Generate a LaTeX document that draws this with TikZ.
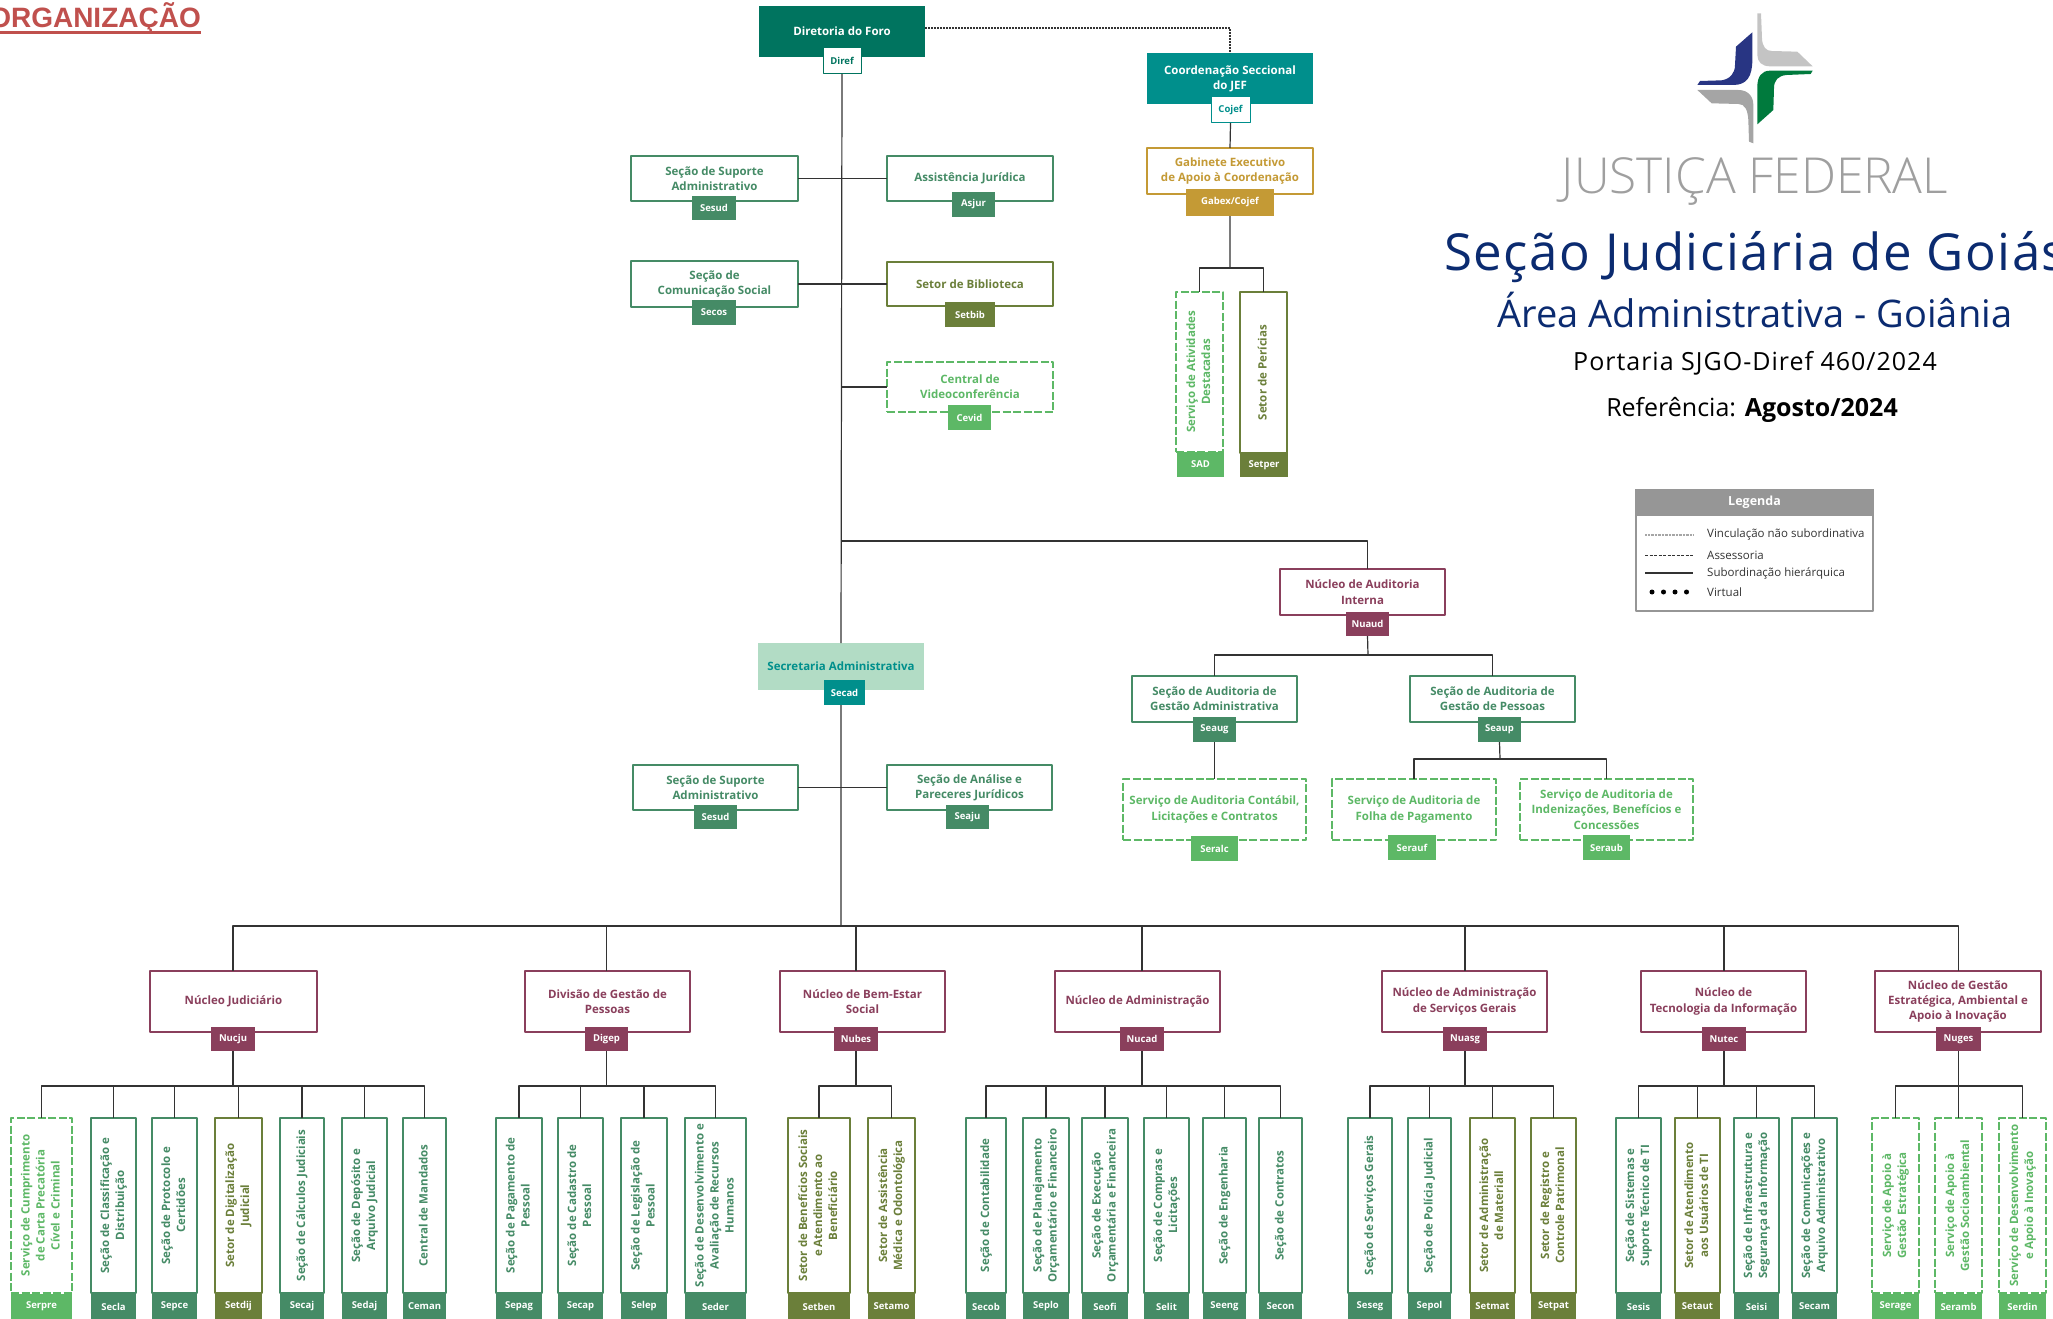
\documentclass[tikz,border=0pt]{standalone}
\usepackage{fontspec}
\usepackage{graphicx}
\setmainfont{Open Sans}
\newfontfamily\titlefont{Liberation Sans}
\newfontfamily\logofont{Open Sans Light}
\newfontfamily\wideface[LetterSpace=3]{Open Sans}
\newfontfamily\midface[LetterSpace=4]{Open Sans}
\definecolor{cdiref}{HTML}{00745F}
\definecolor{cteal}{HTML}{008F8C}
\definecolor{csoft}{HTML}{B2DCC5}
\definecolor{cgold}{HTML}{C49A35}
\definecolor{cgreen}{HTML}{458B66}
\definecolor{colive}{HTML}{6B7F3A}
\definecolor{cserv}{HTML}{5DB866}
\definecolor{cwine}{HTML}{8A3F5C}
\definecolor{ctitle}{HTML}{C0504D}
\definecolor{cnavy}{HTML}{0B2B70}
\definecolor{cline}{HTML}{333333}
\definecolor{clegend}{HTML}{969696}
\definecolor{clogoblue}{HTML}{283583}
\definecolor{clogogreen}{HTML}{007A3D}
\definecolor{clogolight}{HTML}{C4C4C4}
\definecolor{clogodark}{HTML}{A5A5A5}
\tikzset{
	orgnode/.style={inner sep=0pt, outer sep=0pt, align=center, font=\fontsize{11.5}{15.3}\selectfont\bfseries},
	unitbox/.style={orgnode, draw=#1, text=#1, fill=white, line width=2.2pt},
	dashbox/.style={unitbox=#1, dash pattern=on 8pt off 2.5pt},
	fullbox/.style={orgnode, fill=#1, text=white},
	unittag/.style={orgnode, fill=#1, text=white, font=\fontsize{9.5}{12}\selectfont\bfseries},
	whitetag/.style={orgnode, draw=#1, text=#1, fill=white, line width=1pt, font=\fontsize{9.5}{12}\selectfont\bfseries},
	conn/.style={draw=cline, line width=1.2pt},
	legtext/.style={inner sep=0pt, anchor=west, text=cline, font=\fontsize{11.5}{12}\selectfont},
	headline/.style={inner sep=0pt, anchor=base, text=black}
}
\newcommand{\orgbox}[7]{\node[#2, minimum width={(#5-#3)*1pt}, minimum height={(#6-#4)*1pt}] (#1) at ({(#3+#5)/2},{(#4+#6)/2}) {#7};}
\newcommand{\vtext}[1]{\rotatebox{90}{\fontsize{11.5}{15}\selectfont\begin{tabular}{@{}c@{}}#1\end{tabular}}}
\begin{document}
\begin{tikzpicture}[x=1pt, y=-1pt, line join=round]
	\useasboundingbox (0,0) rectangle (2053,1319);
	\node[inner sep=0pt, anchor=base east, text=ctitle, font=\titlefont\fontsize{28}{30}\selectfont\bfseries] (title) at (201,28) {ORGANIZAÇÃO};
	\coordinate (titleleft) at (0,32.5);
	\draw[ctitle, line width=3pt] (titleleft) -- (titleleft -| title.east);

	\orgbox{diref}{fullbox=cdiref}{759}{6}{925}{57}{Diretoria do Foro}
	\orgbox{direftag}{whitetag=cdiref}{823}{48}{861}{74}{Diref}
	\orgbox{sesudA}{unitbox=cgreen}{631}{156}{798}{201}{Seção de Suporte\\Administrativo}
	\orgbox{sesudAtag}{unittag=cgreen}{692}{196}{736}{220}{Sesud}
	\orgbox{asjur}{unitbox=cgreen}{887}{156}{1053}{201}{Assistência Jurídica}
	\orgbox{asjurtag}{unittag=cgreen}{952}{192}{995}{217}{Asjur}
	\orgbox{secos}{unitbox=cgreen}{631}{261}{798}{307}{Seção de\\Comunicação Social}
	\orgbox{secostag}{unittag=cgreen}{692}{300}{736}{325}{Secos}
	\orgbox{setbib}{unitbox=colive}{887}{262}{1053}{306}{Setor de Biblioteca}
	\orgbox{setbibtag}{unittag=colive}{945}{302}{995}{327}{Setbib}
	\orgbox{cevid}{dashbox=cserv}{887}{362}{1053}{412}{Central de\\Videoconferência}
	\orgbox{cevidtag}{unittag=cserv}{948}{405}{991}{430}{Cevid}

	\orgbox{cojef}{fullbox=cteal}{1147}{53}{1313}{104}{Coordenação Seccional\\do JEF}
	\orgbox{cojeftag}{whitetag=cteal}{1211}{97}{1250}{123}{Cojef}
	\orgbox{gabex}{unitbox=cgold}{1147}{148}{1313}{194}{Gabinete Executivo\\de Apoio à Coordenação}
	\orgbox{gabextag}{unittag=cgold}{1186}{189}{1274}{216}{Gabex/Cojef}
	\orgbox{sad}{dashbox=cserv}{1176}{292}{1223}{452}{\vtext{Serviço de Atividades\\Destacadas}}
	\orgbox{sadtag}{unittag=cserv}{1177}{452}{1224}{477}{SAD}
	\orgbox{setper}{unitbox=colive}{1240}{292}{1287}{453}{\vtext{Setor de Perícias}}
	\orgbox{setpertag}{unittag=colive}{1240}{453}{1288}{477}{Setper}

	\orgbox{nuaud}{unitbox=cwine}{1280}{569}{1445}{615}{Núcleo de Auditoria\\Interna}
	\orgbox{nuaudtag}{unittag=cwine}{1346}{612}{1389}{636}{Nuaud}
	\orgbox{seaug}{unitbox=cgreen}{1132}{676}{1297}{722}{Seção de Auditoria de\\Gestão Administrativa}
	\orgbox{seaugtag}{unittag=cgreen}{1193}{717}{1236}{742}{Seaug}
	\orgbox{seaup}{unitbox=cgreen}{1410}{676}{1575}{722}{Seção de Auditoria de\\Gestão de Pessoas}
	\orgbox{seauptag}{unittag=cgreen}{1478}{717}{1521}{742}{Seaup}
	\orgbox{seralc}{dashbox=cserv}{1123}{779}{1306}{840}{Serviço de Auditoria Contábil,\\Licitações e Contratos}
	\orgbox{seralctag}{unittag=cserv}{1191}{836}{1238}{861}{Seralc}
	\orgbox{serauf}{dashbox=cserv}{1332}{779}{1496}{840}{Serviço de Auditoria de\\Folha de Pagamento}
	\orgbox{serauftag}{unittag=cserv}{1388}{835}{1436}{860}{Serauf}
	\orgbox{seraub}{dashbox=cserv}{1520}{779}{1693}{840}{Serviço de Auditoria de\\Indenizações, Benefícios e\\Concessões}
	\orgbox{seraubtag}{unittag=cserv}{1583}{835}{1630}{860}{Seraub}

	\orgbox{secad}{fullbox=csoft, text=cteal}{758}{643}{924}{690}{Secretaria Administrativa}
	\orgbox{secadtag}{unittag=cteal}{824}{680}{865}{705}{Secad}
	\orgbox{sesudB}{unitbox=cgreen}{633}{765}{798}{810}{Seção de Suporte\\Administrativo}
	\orgbox{sesudBtag}{unittag=cgreen}{694}{805}{737}{829}{Sesud}
	\orgbox{seaju}{unitbox=cgreen}{887}{765}{1052}{810}{Seção de Análise e\\Pareceres Jurídicos}
	\orgbox{seajutag}{unittag=cgreen}{946}{805}{989}{829}{Seaju}

	\foreach \nm/\xa/\xb/\ta/\tb/\txt/\lbl in {
		nucju/150/317/211/255/{Núcleo Judiciário}/Nucju,
		digep/525/690/585/628/{Divisão de Gestão de\\Pessoas}/Digep,
		nubes/780/945/834/878/{Núcleo de Bem-Estar\\Social}/Nubes,
		nucad/1055/1220/1120/1164/{Núcleo de Administração}/Nucad,
		nuasg/1382/1547/1443/1487/{Núcleo de Administração\\de Serviços Gerais}/Nuasg,
		nutec/1641/1806/1702/1746/{Núcleo de\\Tecnologia da Informação}/Nutec,
		nuges/1875/2041/1936/1981/{Núcleo de Gestão\\Estratégica, Ambiental e\\Apoio à Inovação}/Nuges}{
		\orgbox{\nm}{unitbox=cwine}{\xa}{971}{\xb}{1032}{\txt}
		\orgbox{\nm-tag}{unittag=cwine}{\ta}{1027}{\tb}{1051}{\lbl}
	}

	\foreach \nm/\clr/\xa/\xb/\txt/\lbl in {
		secla/cgreen/91/136/{Seção de Classificação e\\Distribuição}/Secla,
		sepce/cgreen/152/197/{Seção de Protocolo e\\Certidões}/Sepce,
		setdij/colive/215/262/{Setor de Digitalização\\Judicial}/Setdij,
		secaj/cgreen/280/324/{Seção de Cálculos Judiciais}/Secaj,
		sedaj/cgreen/342/387/{Seção de Depósito e\\Arquivo Judicial}/Sedaj,
		ceman/cgreen/403/446/{Central de Mandados}/Ceman,
		sepag/cgreen/496/542/{Seção de Pagamento de\\Pessoal}/Sepag,
		secap/cgreen/558/603/{Seção de Cadastro de\\Pessoal}/Secap,
		selep/cgreen/621/667/{Seção de Legislação de\\Pessoal}/Selep,
		seder/cgreen/685/746/{Seção de Desenvolvimento e\\Avaliação de Recursos\\Humanos}/Seder,
		setben/colive/788/850/{Setor de Benefícios Sociais\\e Atendimento ao\\Beneficiário}/Setben,
		setamo/colive/868/915/{Setor de Assistência\\Médica e Odontológica}/Setamo,
		secob/cgreen/966/1006/{Seção de Contabilidade}/Secob,
		seplo/cgreen/1023/1069/{Seção de Planejamento\\Orçamentário e Financeiro}/Seplo,
		seofi/cgreen/1082/1128/{Seção de Execução\\Orçamentária e Financeira}/Seofi,
		selit/cgreen/1144/1189/{Seção de Compras e\\Licitações}/Selit,
		seeng/cgreen/1203/1246/{Seção de Engenharia}/Seeng,
		secon/cgreen/1259/1302/{Seção de Contratos}/Secon,
		seseg/cgreen/1348/1392/{Seção de Serviços Gerais}/Seseg,
		sepol/cgreen/1408/1451/{Seção de Polícia Judicial}/Sepol,
		setmat/colive/1470/1515/{Setor de Administração\\de Materiall}/Setmat,
		setpat/colive/1531/1576/{Setor de Registro e\\Controle Patrimonal}/Setpat,
		sesis/cgreen/1616/1661/{Seção de Sistemas e\\Suporte Técnico de TI}/Sesis,
		setaut/colive/1675/1720/{Setor de Atendimento\\aos Usuários de TI}/Setaut,
		seisi/cgreen/1734/1779/{Seção de Infraestrutura e\\Segurança da Informação}/Seisi,
		secam/cgreen/1792/1837/{Seção de Comunicações e\\Arquivo Administrativo}/Secam}{
		\orgbox{\nm}{unitbox=\clr}{\xa}{1118}{\xb}{1293}{\vtext{\txt}}
		\orgbox{\nm-tag}{unittag=\clr}{\xa}{1294}{\xb}{1319}{\lbl}
	}
	\foreach \nm/\xa/\xb/\txt/\lbl in {
		serpre/11/72/{Serviço de Cumprimento\\de Carta Precatória\\Cível e Criminal}/Serpre,
		serage/1872/1919/{Serviço de Apoio à\\Gestão Estratégica}/Serage,
		seramb/1935/1982/{Serviço de Apoio à\\Gestão Socioambiental}/Seramb,
		serdin/1999/2046/{Serviço de Desenvolvimento\\e Apoio à Inovação}/Serdin}{
		\orgbox{\nm}{dashbox=cserv}{\xa}{1118}{\xb}{1293}{\vtext{\txt}}
		\orgbox{\nm-tag}{unittag=cserv}{\xa}{1294}{\xb}{1319}{\lbl}
	}

	\coordinate (dotstart) at (925,28);
	\coordinate (trunk) at (841,926);
	\coordinate (audit) at (841,541);
	\coordinate (gabexbar) at (1230,268);
	\coordinate (nuaudbar) at (1368,655);
	\coordinate (seaupbar) at (1500,759);
	\coordinate (barlevel) at (0,1086);
	\draw[cline, line width=1.6pt, dash pattern=on 1.6pt off 1.4pt] (dotstart) -| (cojef.north);
	\draw[conn] (direftag.south) -- (secad.north) (secadtag.south -| secad.south) -- (trunk);
	\draw[conn] (sesudA.east) -- (asjur.west) (secos.east) -- (setbib.west) (sesudB.east) -- (seaju.west);
	\draw[conn] (direftag.south |- cevid.west) -- (cevid.west);
	\draw[conn] (audit) -| (nuaudtag.north |- nuaud.north);
	\draw[conn] (cojeftag.south) -- (gabex.north) (gabextag.south) -- (gabexbar);
	\foreach \i in {sad,setper} \draw[conn] (gabexbar) -| (\i.north);
	\draw[conn] (nuaudtag.south) -- (nuaudbar);
	\foreach \i in {seaug,seaup} \draw[conn] (nuaudbar) -| (\i.north);
	\draw[conn] (seaugtag.south) -- (seralc.north);
	\draw[conn] (seauptag.south) -- (seaupbar);
	\foreach \i in {serauf,seraub} \draw[conn] (seaupbar) -| (\i.north);
	\foreach \i in {nucju,digep,nubes,nucad,nuasg,nutec,nuges} \draw[conn] (trunk) -| (\i-tag.north |- \i.north);
	\foreach \pai/\kids in {
		nucju/{serpre,secla,sepce,setdij,secaj,sedaj,ceman},
		digep/{sepag,secap,selep,seder},
		nubes/{setben,setamo},
		nucad/{secob,seplo,seofi,selit,seeng,secon},
		nuasg/{seseg,sepol,setmat,setpat},
		nutec/{sesis,setaut,seisi,secam},
		nuges/{serage,seramb,serdin}}{
		\coordinate (\pai-bar) at (\pai-tag.south |- barlevel);
		\draw[conn] (\pai-tag.south) -- (\pai-bar);
		\foreach \i in \kids \draw[conn] (\pai-bar) -| (\i.north);
	}

	\begin{scope}[xshift=1680pt, yshift=-5pt, x=0.3333pt, y=-0.3333pt]
	\fill[clogolight] (232,25) -- (243,25) -- (246,100) .. controls (247,125) and (258,138) .. (275,138) -- (352,140) -- (398,184) -- (270,184) .. controls (245,184) and (232,170) .. (232,150) -- cycle;
	\fill[clogoblue] (217,82) -- (217,165) .. controls (217,215) and (200,240) .. (160,240) -- (52,240) -- (60,228) -- (125,226) .. controls (150,222) and (165,205) .. (165,180) -- (168,125) -- cycle;
	\fill[clogodark] (52,255) -- (175,255) .. controls (205,255) and (220,275) .. (220,300) -- (220,415) -- (207,410) -- (205,345) .. controls (203,315) and (195,297) .. (175,297) -- (95,295) -- cycle;
	\fill[clogogreen] (398,197) -- (392,207) -- (320,210) .. controls (295,212) and (282,225) .. (282,250) -- (280,315) -- (232,358) -- (232,245) .. controls (232,215) and (245,197) .. (270,197) -- cycle;
	\end{scope}
	\node[headline, text=gray!75, font=\logofont\fontsize{49.6}{50}\selectfont] (justica) at (1755,193) {JUSTIÇA FEDERAL};
	\node[headline, anchor=base west, text=cnavy, font=\wideface\fontsize{51}{52}\selectfont] (secao) at (1444,270) {Seção Judiciária de Goiás};
	\node[headline, text=cnavy, font=\fontsize{38}{40}\selectfont] (area) at (1755,327) {Área Administrativa - Goiânia};
	\node[headline, font=\midface\fontsize{25}{26}\selectfont] (portaria) at (1755,370) {Portaria SJGO-Diref 460/2024};
	\node[headline, font=\fontsize{25}{26}\selectfont] (referencia) at (1752,416) {Referência: \textbf{Agosto/2024}};

	\orgbox{legbox}{draw=clegend, line width=1.5pt, fill=white, inner sep=0pt}{1636}{490}{1873}{611}{}
	\orgbox{leghead}{fullbox=clegend, font=\fontsize{12.5}{14}\selectfont\bfseries}{1635}{489}{1874}{516}{Legenda}
	\foreach \j/\y/\txt in {a/535/Vinculação não subordinativa, b/555/Assessoria, c/573/Subordinação hierárquica, d/592/Virtual}{
		\coordinate (leg\j l) at (1645,\y);
		\coordinate (leg\j r) at (1693,\y);
		\node[legtext] (leg\j) at (1707,\y) {\txt};
	}
	\draw[gray!70, line width=1.2pt, dash pattern=on 0.8pt off 0.6pt] (legal) -- (legar);
	\draw[cline, line width=1pt, dash pattern=on 3pt off 1.5pt] (legbl) -- (legbr);
	\draw[cline, line width=1.2pt] (legcl) -- (legcr);
	\draw[black, line width=5pt, line cap=round, dash pattern=on 0pt off 11.5pt] (legdl) ++(7,0) -- (legdr);
\end{tikzpicture}
\end{document}
